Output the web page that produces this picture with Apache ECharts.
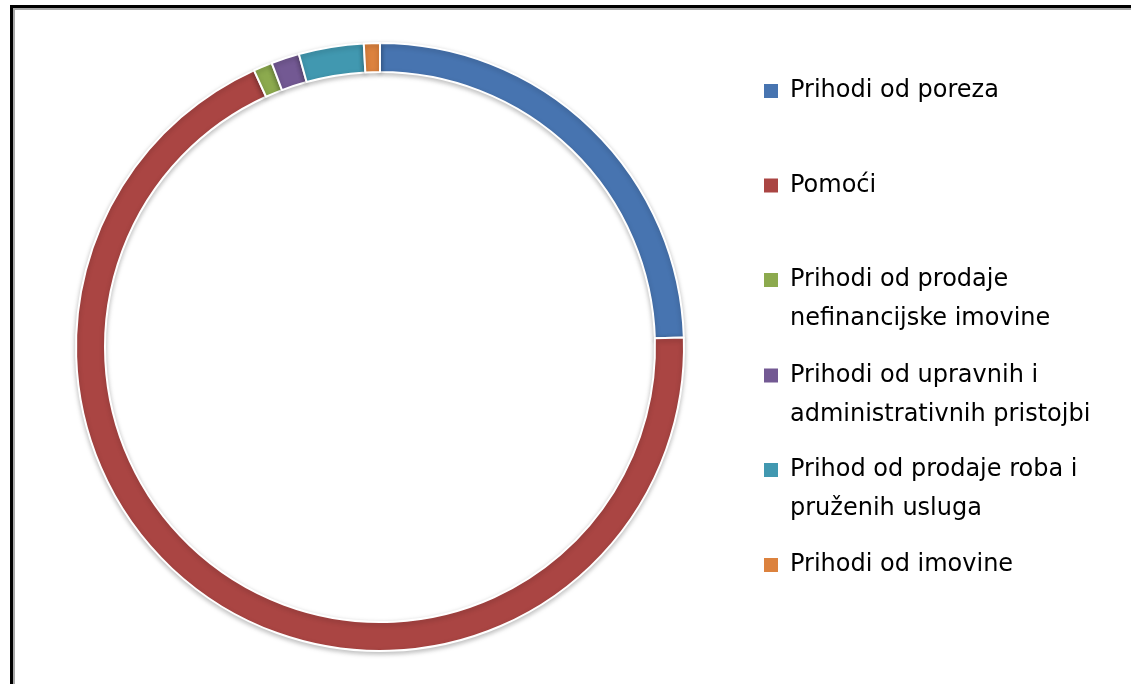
<!DOCTYPE html>
<html>
<head>
<meta charset="utf-8">
<script src="https://cdn.jsdelivr.net/npm/echarts@6/dist/echarts.min.js"></script>
<style>
  html, body { margin: 0; padding: 0; background: #fff; }
  #frame { position: absolute; left: 10px; top: 5px; width: 2000px; height: 2000px;
           border-left: 3px solid #000; border-top: 3px solid #000; box-sizing: border-box; }
  #frame2 { position: absolute; left: 13px; top: 8px; width: 2000px; height: 2000px;
           border-left: 2px solid #a8a8a8; border-top: 2px solid #a8a8a8; box-sizing: border-box; }
  #chart { position: absolute; left: 0; top: 0; width: 1131px; height: 684px; }
</style>
</head>
<body>
<div id="frame"></div>
<div id="frame2"></div>
<div id="chart"></div>
<script>
// Data
const categories = [
  'Prihodi od poreza',
  'Pomoći',
  'Prihodi od prodaje nefinancijske imovine',
  'Prihodi od upravnih i administrativnih pristojbi',
  'Prihod od prodaje roba i pruženih usluga',
  'Prihodi od imovine'
];
const legendLabels = [
  'Prihodi od poreza',
  'Pomoći',
  'Prihodi od prodaje\nnefinancijske imovine',
  'Prihodi od upravnih i\nadministrativnih pristojbi',
  'Prihod od prodaje roba i\npruženih usluga',
  'Prihodi od imovine'
];
const values = [24.5, 68.7, 1.0, 1.5, 3.45, 0.85];
const colors = ['#4774B0', '#AA4543', '#8CAA4E', '#735993', '#4198B0', '#DC823E'];

const chart = echarts.init(document.getElementById('chart'), null, { renderer: 'canvas' });

const LINE_H = 39;
const FONT = { fontFamily: 'DejaVu Sans', fontSize: 24, color: '#000', lineHeight: LINE_H };
const firstLineCenters = [91, 185.5, 280, 375.5, 470, 565];

const legends = categories.map((name, i) => {
  const parts = legendLabels[i].split('\n');
  // pad with a leading blank line for wrapped items so the first line sits at the marker
  const shown = parts.length > 1 ? [' '].concat(parts) : parts;
  const totalLines = shown.length;
  const text = shown.map(s => '{t|' + s + '}').join('\n');
  return {
    data: [name],
    orient: 'vertical',
    left: 764,
    top: firstLineCenters[i] - (totalLines * LINE_H) / 2,
    padding: 0,
    icon: 'rect',
    itemWidth: 14,
    itemHeight: 14,
    itemGap: 0,
    selectedMode: false,
    itemStyle: { borderWidth: 0, shadowBlur: 0 },
    formatter: () => text,
    textStyle: Object.assign({}, FONT, {
      rich: { t: Object.assign({}, FONT, { padding: [0, 0, 0, 7] }) }
    })
  };
});

chart.setOption({
  animation: false,
  color: colors,
  legend: legends,
  series: [{
    type: 'pie',
    center: [380, 347],
    radius: [275, 304],
    startAngle: 90,
    clockwise: true,
    avoidLabelOverlap: false,
    label: { show: false },
    labelLine: { show: false },
    emphasis: { disabled: true },
    itemStyle: {
      borderColor: '#fff',
      borderWidth: 2,
      shadowBlur: 5,
      shadowColor: 'rgba(0,0,0,0.25)',
      shadowOffsetY: 2
    },
    data: categories.map((n, i) => ({ name: n, value: values[i] }))
  }]
});
</script>
</body>
</html>
